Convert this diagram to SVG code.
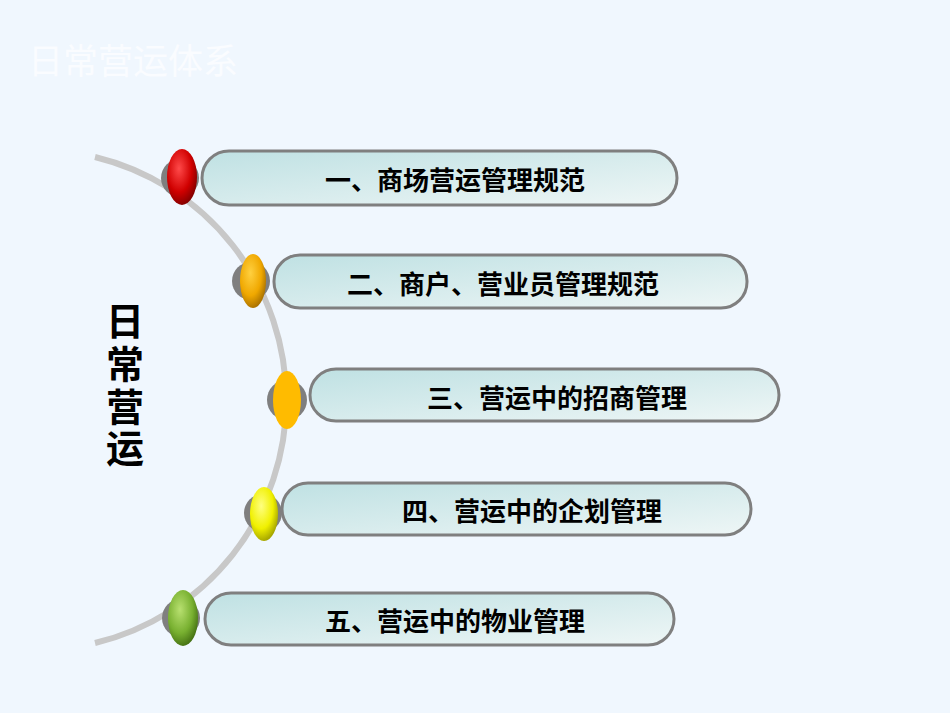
<svg xmlns="http://www.w3.org/2000/svg" width="950" height="713" viewBox="0 0 950 713">
<defs>
<linearGradient id="pill" x1="0" y1="0" x2="1" y2="1"><stop offset="0" stop-color="#bfe1e3"/><stop offset="1" stop-color="#eef6f6"/></linearGradient>
<radialGradient id="red" cx="0.4" cy="0.35" r="0.7"><stop offset="0" stop-color="#ff4a4a"/><stop offset="0.6" stop-color="#d00000"/><stop offset="1" stop-color="#7a0000"/></radialGradient>
<radialGradient id="org" cx="0.4" cy="0.35" r="0.7"><stop offset="0" stop-color="#ffd040"/><stop offset="0.6" stop-color="#f0a800"/><stop offset="1" stop-color="#a06a00"/></radialGradient>
<radialGradient id="yel" cx="0.4" cy="0.35" r="0.7"><stop offset="0" stop-color="#ffff80"/><stop offset="0.6" stop-color="#f0f000"/><stop offset="1" stop-color="#9a9a00"/></radialGradient>
<radialGradient id="grn" cx="0.4" cy="0.35" r="0.7"><stop offset="0" stop-color="#b8e070"/><stop offset="0.6" stop-color="#78b030"/><stop offset="1" stop-color="#3f6a10"/></radialGradient>
</defs>
<style>
.p{fill:url(#pill);stroke:#7f7f7f;stroke-width:3}
.s{fill:#7f7f7f}
.t{font-family:"Noto Sans CJK SC",sans-serif;font-weight:bold;font-size:26px;fill:#000;text-anchor:middle}
</style>
<rect width="950" height="713" fill="#f0f7fe"/>
<text x="28" y="74" font-family="Noto Sans CJK SC,sans-serif" font-size="35" fill="#fafcff">日常营运体系</text>
<g id="connectors"><path d="M95 157 A250 250 0 0 1 95 643" fill="none" stroke="#c8c8c8" stroke-width="6"/></g>
<g id="label" font-family="Noto Sans CJK SC,sans-serif" font-weight="bold" font-size="38" text-anchor="middle">
<text x="125" y="335">日</text><text x="125" y="378">常</text><text x="125" y="421">营</text><text x="125" y="462">运</text></g>
<g id="n1"><circle class="s" cx="180" cy="178" r="19"/><rect class="p" x="202" y="151" width="475" height="54" rx="27"/><ellipse cx="182" cy="177" rx="15" ry="28" fill="url(#red)"/><text class="t" x="455" y="190">一、商场营运管理规范</text></g>
<g id="n2"><circle class="s" cx="251" cy="281" r="19"/><rect class="p" x="274" y="255" width="473" height="53" rx="26"/><ellipse cx="253" cy="281" rx="13" ry="27" fill="url(#org)"/><text class="t" x="503" y="294">二、商户、营业员管理规范</text></g>
<g id="n3"><circle class="s" cx="287" cy="400" r="20"/><rect class="p" x="310" y="369" width="469" height="52" rx="26"/><ellipse cx="287" cy="400" rx="14" ry="29" fill="#ffbb00"/><text class="t" x="557" y="408">三、营运中的招商管理</text></g>
<g id="n4"><circle class="s" cx="263" cy="513" r="19"/><rect class="p" x="282" y="483" width="469" height="52" rx="26"/><ellipse cx="264" cy="514" rx="14" ry="27" fill="url(#yel)"/><text class="t" x="532" y="521">四、营运中的企划管理</text></g>
<g id="n5"><circle class="s" cx="181" cy="618" r="19"/><rect class="p" x="205" y="593" width="469" height="52" rx="26"/><ellipse cx="183" cy="618" rx="15" ry="28" fill="url(#grn)"/><text class="t" x="455" y="631">五、营运中的物业管理</text></g>
</svg>
